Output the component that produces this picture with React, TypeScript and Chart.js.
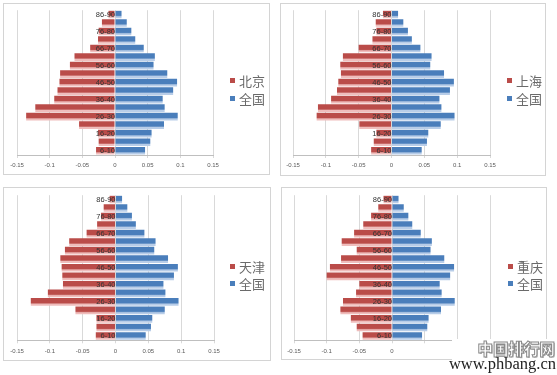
import React, { useEffect, useRef } from "react";
import { Chart, registerables } from "chart.js";

Chart.register(...registerables);

// ---- data (index 0 = youngest group, drawn at the bottom) ----
const ageGroups = [
  "6-10", "11-15", "16-20", "21-25", "26-30", "31-35", "36-40", "41-45", "46-50",
  "51-55", "56-60", "61-65", "66-70", "71-75", "76-80", "81-85", "86-90",
];
const nationalName = "全国";
const nationalShare = [0.046, 0.054, 0.056, 0.075, 0.096, 0.076, 0.073, 0.089, 0.095, 0.080, 0.059, 0.061, 0.044, 0.031, 0.025, 0.018, 0.010];
const beijingShare = [-0.029, -0.025, -0.026, -0.055, -0.136, -0.122, -0.093, -0.088, -0.085, -0.084, -0.069, -0.062, -0.038, -0.026, -0.025, -0.020, -0.010];
const shanghaiShare = [-0.031, -0.027, -0.023, -0.049, -0.114, -0.112, -0.092, -0.083, -0.081, -0.077, -0.078, -0.074, -0.050, -0.029, -0.023, -0.024, -0.013];
const tianjinShare = [-0.030, -0.029, -0.029, -0.061, -0.129, -0.103, -0.080, -0.081, -0.082, -0.084, -0.077, -0.0705, -0.044, -0.028, -0.022, -0.018, -0.009];
const chongqingShare = [-0.045, -0.054, -0.063, -0.079, -0.075, -0.055, -0.050, -0.100, -0.095, -0.078, -0.054, -0.077, -0.058, -0.044, -0.032, -0.021, -0.013];
const xTickValues = [-0.15, -0.1, -0.05, 0, 0.05, 0.1, 0.15];
const xTickLabels = ["-0.15", "-0.1", "-0.05", "0", "0.05", "0.1", "0.15"];
const watermarkTitle = "中国排行网";
const watermarkUrl = "www.phbang.cn";

// ---- styles ----
const RED = "#BA4C49";
const RED_LIGHT = "#EFBDBC";
const BLUE = "#4A7EBB";
const BLUE_LIGHT = "#B8CDE8";
const CJK = '"Noto Sans CJK SC", "Noto Sans", sans-serif';

const barFill = (dark: string, light: string) => (ctx: any) => {
  const chart = ctx.chart;
  const yScale = chart.scales && chart.scales.y;
  if (!yScale || ctx.type !== "data" || !chart.chartArea) return dark;
  const y = yScale.getPixelForValue(ctx.dataIndex);
  const h = (yScale.height / ageGroups.length) * 0.9;
  const g = chart.ctx.createLinearGradient(0, y - h / 2, 0, y + h / 2);
  g.addColorStop(0, dark);
  g.addColorStop(0.62, dark);
  g.addColorStop(0.8, light);
  g.addColorStop(1, light);
  return g;
};

type Spec = {
  city: string;
  values: number[];
  left: number;
  top: number;
  width: number;
  height: number;
  pad: { left: number; right: number; top: number; bottom: number };
  legendY: [number, number];
  hidePositiveTicks?: boolean;
};

function Pyramid({ spec }: { spec: Spec }) {
  const ref = useRef<HTMLCanvasElement>(null);
  const cw = spec.width - 2;
  const ch = spec.height - 2;
  useEffect(() => {
    const chart = new Chart(ref.current!, {
      type: "bar",
      data: {
        labels: ageGroups,
        datasets: [
          { label: spec.city, data: spec.values, backgroundColor: barFill(RED, RED_LIGHT) as any, borderWidth: 0 },
          { label: nationalName, data: nationalShare, backgroundColor: barFill(BLUE, BLUE_LIGHT) as any, borderWidth: 0 },
        ],
      },
      options: {
        indexAxis: "y",
        responsive: false,
        maintainAspectRatio: false,
        animation: false,
        layout: { padding: spec.pad },
        plugins: { legend: { display: false }, tooltip: { enabled: false } },
        datasets: { bar: { barPercentage: 0.9, categoryPercentage: 1 } },
        scales: {
          x: {
            type: "linear",
            stacked: true,
            min: -0.15,
            max: 0.15,
            afterBuildTicks: (axis: any) => {
              axis.ticks = xTickValues.map((v) => ({ value: v }));
            },
            ticks: {
              autoSkip: false,
              maxRotation: 0,
              padding: 4,
              color: "#595959",
              font: { size: 6, family: "Liberation Sans" },
              callback: (_v: any, i: number) =>
                spec.hidePositiveTicks && xTickValues[i] > 0 ? "" : xTickLabels[i],
            },
            grid: { color: "#d9d9d9", lineWidth: 1, tickLength: 3 },
            border: { color: "#bfbfbf" },
          },
          y: {
            type: "category",
            stacked: true,
            reverse: true,
            position: { x: 0 } as any,
            afterFit: (scale: any) => {
              scale.paddingTop = 0;
              scale.paddingBottom = 0;
            },
            grid: { display: false, drawTicks: false },
            border: { display: false },
            ticks: {
              z: 1,
              autoSkip: false,
              padding: 7,
              color: "#333333",
              font: { size: 7.5, family: "Liberation Sans" },
              callback: (_v: any, i: number) => (i % 2 === 0 ? ageGroups[i] : ""),
            },
          },
        },
      },
    });
    return () => chart.destroy();
  }, []);

  const legendRow = (color: string, text: string, y: number) => (
    <div
      style={{
        position: "absolute",
        left: 226,
        top: y - 10,
        height: 20,
        display: "flex",
        alignItems: "center",
        fontFamily: CJK,
        fontSize: 13,
        color: "#6a6a6a",
        whiteSpace: "nowrap",
      }}
    >
      <span style={{ display: "inline-block", width: 5, height: 5, background: color, marginRight: 4 }} />
      <span>{text}</span>
    </div>
  );

  return (
    <div
      style={{
        position: "absolute",
        left: spec.left,
        top: spec.top,
        width: spec.width,
        height: spec.height,
        boxSizing: "border-box",
        border: "1px solid #d4d4d4",
        background: "#fff",
      }}
    >
      <canvas ref={ref} width={cw} height={ch} style={{ display: "block", width: cw, height: ch }} />
      {legendRow(RED, spec.city, spec.legendY[0])}
      {legendRow(BLUE, nationalName, spec.legendY[1])}
    </div>
  );
}

const specs: Spec[] = [
  { city: "北京", values: beijingShare, left: 3, top: 3, width: 267, height: 172, pad: { left: 13, right: 56, top: 6.2, bottom: 0.8 }, legendY: [76, 94] },
  { city: "上海", values: shanghaiShare, left: 280, top: 3, width: 266, height: 173, pad: { left: 12, right: 55, top: 6.2, bottom: 1.8 }, legendY: [76, 94] },
  { city: "天津", values: tianjinShare, left: 3, top: 187, width: 268, height: 174, pad: { left: 13, right: 56, top: 7.2, bottom: 1.5 }, legendY: [78, 95] },
  { city: "重庆", values: chongqingShare, left: 281, top: 187, width: 266, height: 173, pad: { left: 12, right: 56, top: 7.2, bottom: 0.5 }, legendY: [78, 95], hidePositiveTicks: true },
];

export default function App() {
  return (
    <div style={{ position: "absolute", left: 0, top: 0, width: 557, height: 375, background: "#fff", overflow: "hidden" }}>
      {specs.map((s) => (
        <Pyramid key={s.city} spec={s} />
      ))}
      <div
        style={{
          position: "absolute",
          left: 452,
          top: 339,
          width: 105,
          height: 36,
          background: "#fff",
        }}
      >
        <div
          style={{
            position: "absolute",
            right: 2,
            top: 0,
            fontFamily: CJK,
            fontWeight: 900,
            fontSize: 15.5,
            lineHeight: "18px",
            color: "#fff",
            WebkitTextStroke: "1px #8a8a8a",
            textShadow: "1px 1px 0 #bbb",
            whiteSpace: "nowrap",
          }}
        >
          {watermarkTitle}
        </div>
        <div
          style={{
            position: "absolute",
            right: 1,
            top: 15,
            fontFamily: '"Liberation Serif", "DejaVu Serif", serif',
            fontSize: 16.5,
            lineHeight: "20px",
            color: "#222",
            whiteSpace: "nowrap",
          }}
        >
          {watermarkUrl}
        </div>
      </div>
    </div>
  );
}
